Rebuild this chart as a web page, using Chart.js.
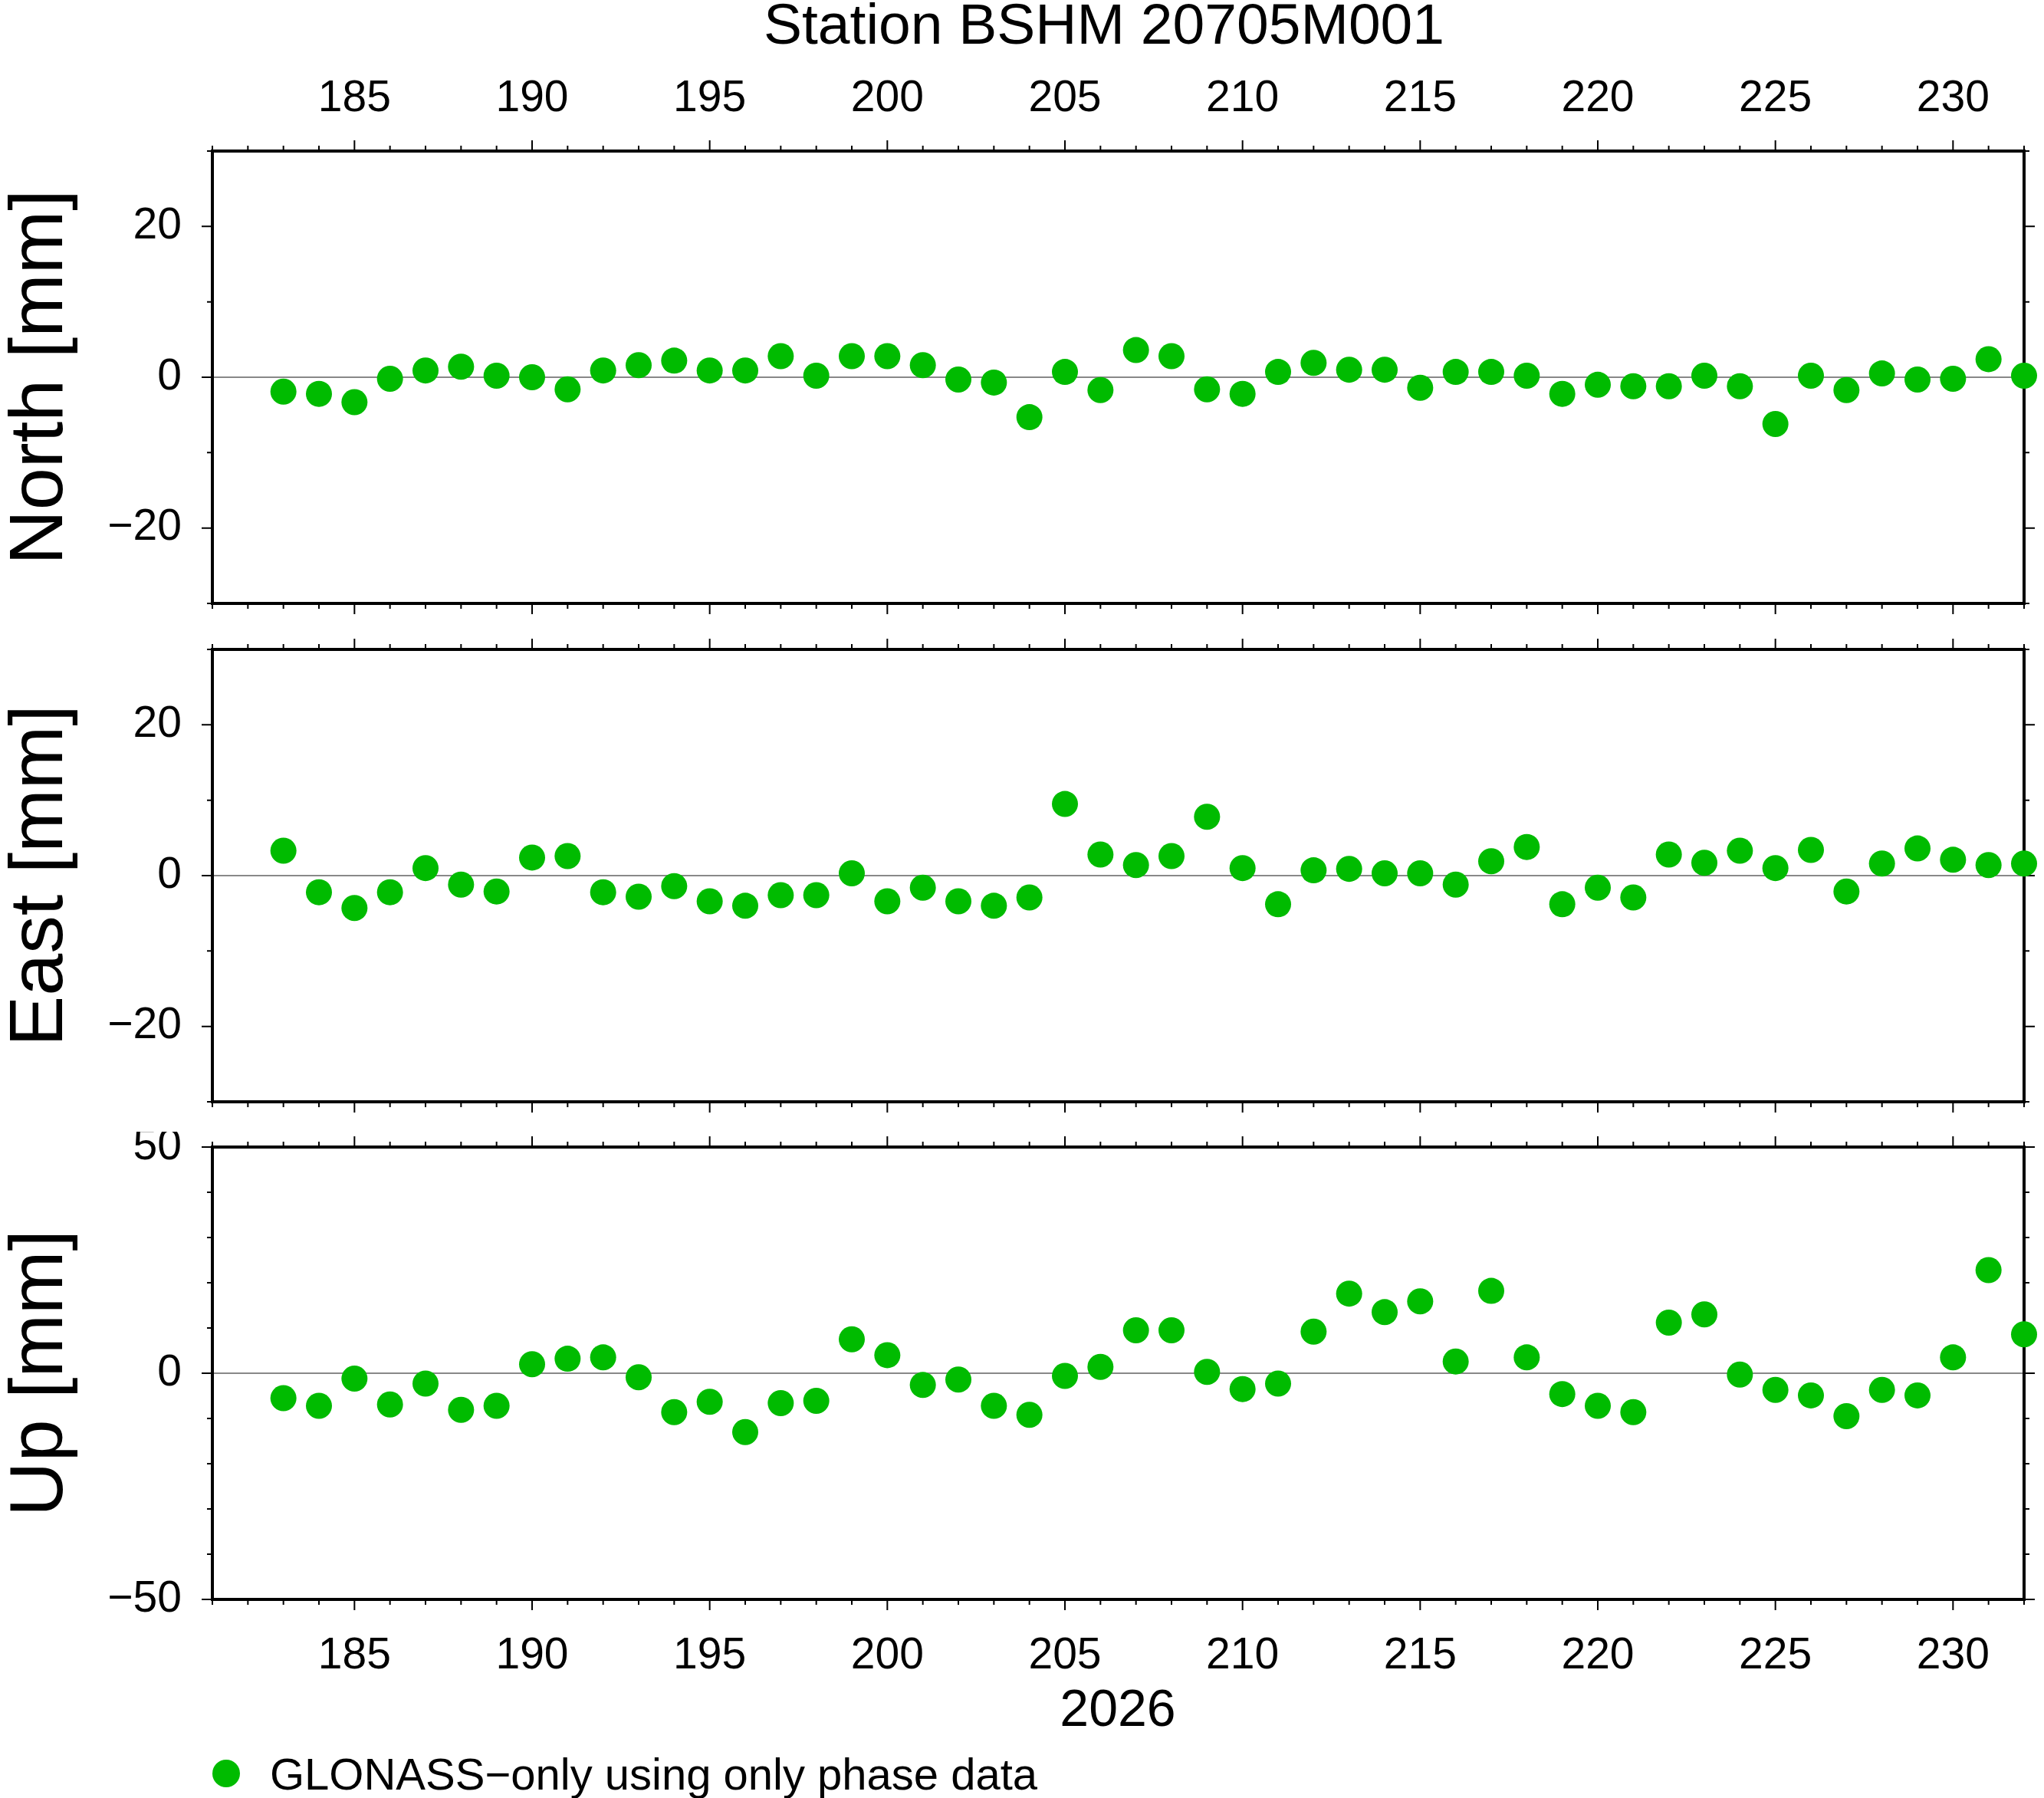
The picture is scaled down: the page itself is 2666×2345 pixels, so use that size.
<!DOCTYPE html>
<html><head><meta charset="utf-8">
<script src="https://cdn.jsdelivr.net/npm/chart.js@4"></script>
<style>
body{margin:0;background:#fff;width:2666px;height:2345px;position:relative;overflow:hidden;font-family:"Liberation Sans",Arial,sans-serif;}
.c{position:absolute;left:0;width:2666px;}
.t{position:absolute;color:#000;white-space:nowrap;}
</style></head><body>
<div class="t" style="left:0;width:2880px;text-align:center;top:-12px;font-size:75px;">Station BSHM 20705M001</div>
<div class="c" style="top:60px;height:747px;"><canvas id="n"></canvas></div>
<div class="c" style="top:827px;height:630px;"><canvas id="e"></canvas></div>
<div class="c" style="top:1476px;height:724px;"><canvas id="u"></canvas></div>
<div class="t" style="left:1258px;width:400px;text-align:center;top:2188px;font-size:68px;">2026</div>
<div style="position:absolute;left:277px;top:2295px;width:36px;height:36px;border-radius:50%;background:#00bb00;"></div>
<div class="t" style="left:352px;top:2280px;font-size:58px;">GLONASS−only using only phase data</div>
<script>
const days=[];for(let d=183;d<=232;d++)days.push(d);
const north=[-1.9,-2.2,-3.3,-0.2,0.9,1.4,0.2,0,-1.6,0.9,1.6,2.2,0.9,0.9,2.8,0.2,2.8,2.8,1.6,-0.3,-0.7,-5.3,0.7,-1.7,3.6,2.8,-1.6,-2.2,0.7,1.9,1.0,1.0,-1.4,0.7,0.7,0.2,-2.2,-1.0,-1.2,-1.2,0.2,-1.2,-6.2,0.2,-1.7,0.5,-0.3,-0.2,2.4,0.2];
const east=[3.3,-2.2,-4.3,-2.2,1.0,-1.2,-2.1,2.4,2.6,-2.2,-2.8,-1.4,-3.4,-4.0,-2.6,-2.6,0.3,-3.4,-1.6,-3.4,-4.0,-2.9,9.5,2.8,1.4,2.6,7.8,1.0,-3.8,0.7,0.9,0.3,0.3,-1.2,1.9,3.8,-3.8,-1.6,-2.9,2.8,1.7,3.3,1.0,3.4,-2.1,1.6,3.6,2.1,1.4,1.6];
const up=[-5.5,-7.2,-1.2,-6.9,-2.3,-8.1,-7.2,2.0,3.2,3.5,-0.9,-8.6,-6.3,-13.0,-6.6,-6.1,7.5,4.0,-2.6,-1.4,-7.2,-9.2,-0.6,1.4,9.5,9.5,0.3,-3.5,-2.3,9.2,17.6,13.5,15.9,2.6,18.2,3.5,-4.6,-7.2,-8.6,11.2,13.0,-0.3,-3.7,-4.9,-9.5,-3.7,-4.9,3.5,22.8,8.6];
const xTicks=[185,190,195,200,205,210,215,220,225,230];
const FONT='"Liberation Sans", Arial, sans-serif';
const framePlugin={id:'frame',
 beforeDatasetsDraw(ch,a,o){const c=ch.ctx,A=ch.chartArea,x=ch.scales.x,y=ch.scales.y;
  c.save();
  c.strokeStyle='#888';c.lineWidth=2;const y0=y.getPixelForValue(0);
  c.beginPath();c.moveTo(A.left,y0);c.lineTo(A.right,y0);c.stroke();
  c.strokeStyle='#000';c.lineWidth=2;
  for(let d=Math.ceil(x.min);d<=x.max;d++){const px=x.getPixelForValue(d);const L=d%5===0?14:7;
   c.beginPath();c.moveTo(px,A.top);c.lineTo(px,A.top-L);c.moveTo(px,A.bottom);c.lineTo(px,A.bottom+L);c.stroke();}
  for(let v=y.min;v<=y.max;v+=10){const py=y.getPixelForValue(v);const L=v%o.major===0?14:7;
   c.beginPath();c.moveTo(A.left,py);c.lineTo(A.left-L,py);c.moveTo(A.right,py);c.lineTo(A.right+L,py);c.stroke();}
  c.lineWidth=4;c.strokeRect(A.left,A.top,A.right-A.left,A.bottom-A.top);
  c.restore();}};
function make(id,vals,title,ymin,ymax,major,xpos,xh,pad){
 const yt=[];for(let v=ymin;v<=ymax;v++)if(v%major===0)yt.push(v);
 new Chart(document.getElementById(id),{type:'scatter',
  data:{datasets:[{data:days.map((d,i)=>({x:d,y:vals[i]})),backgroundColor:'#00bb00',borderWidth:0,pointRadius:17,clip:false}]},
  options:{responsive:true,maintainAspectRatio:false,animation:false,
   layout:{padding:pad},
   plugins:{legend:{display:false},tooltip:{enabled:false},frame:{major:major}},
   scales:{
    x:{type:'linear',min:181,max:232,position:xpos||'bottom',display:!!xpos,
     grid:{display:false,drawTicks:false},border:{display:false},
     afterBuildTicks:s=>{s.ticks=xTicks.map(v=>({value:v}));},
     afterFit:s=>{s.height=xh;s.paddingLeft=0;s.paddingRight=0;},
     ticks:{font:{family:FONT,size:57},color:'#000',padding:xpos==='top'?34:40,maxRotation:0,autoSkip:false}},
    y:{min:ymin,max:ymax,grid:{display:false,drawTicks:false},border:{display:false},
     afterBuildTicks:s=>{s.ticks=yt.map(v=>({value:v}));},
     afterFit:s=>{s.width=277;s.paddingTop=0;s.paddingBottom=0;},
     ticks:{font:{family:FONT,size:57},color:'#000',padding:40,callback:v=>String(v).replace('-','\u2212')},
     title:{display:true,text:title,font:{family:FONT,size:99},color:'#000',padding:{top:-6,bottom:0},lineHeight:1}}}},
  plugins:[framePlugin]});
}
make('n',north,'North [mm]',-30,30,20,'top',137,{left:0,right:26,top:0,bottom:20});
make('e',east,'East [mm]',-30,30,20,null,0,{left:0,right:26,top:20,bottom:20});
make('u',up,'Up [mm]',-50,50,50,'bottom',114,{left:0,right:26,top:20,bottom:0});
</script>
</body></html>
